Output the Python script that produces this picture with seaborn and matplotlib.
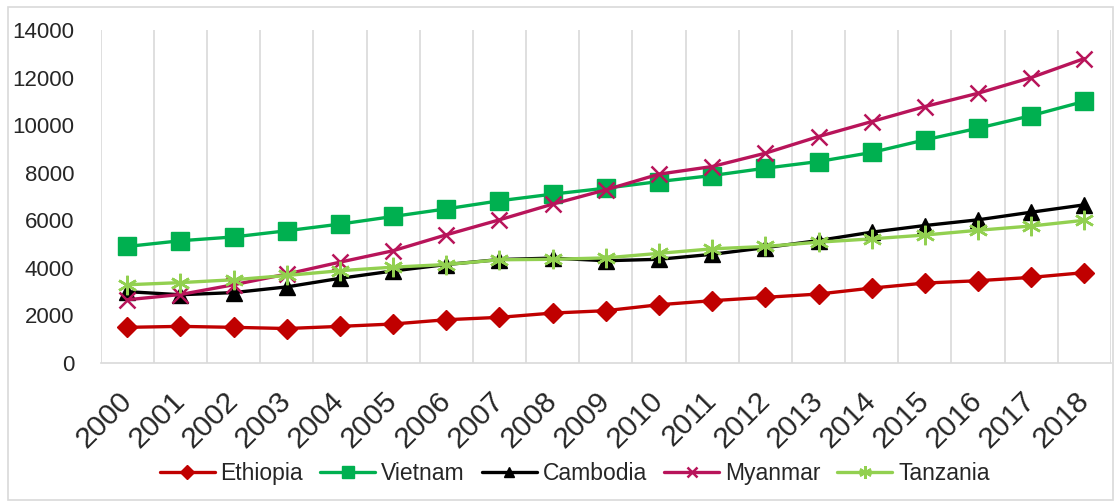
import matplotlib
matplotlib.use("Agg")
import matplotlib.pyplot as plt
import seaborn as sns
import pandas as pd
from matplotlib.patches import Rectangle

years = list(range(2000, 2019))
year_labels = [str(y) for y in years]

ethiopia = [1500, 1540, 1500, 1450, 1540, 1640, 1820, 1920, 2100, 2200, 2450, 2620, 2760, 2900, 3150, 3360, 3460, 3600, 3800]
vietnam = [4900, 5140, 5300, 5560, 5840, 6160, 6480, 6820, 7100, 7350, 7630, 7880, 8190, 8470, 8850, 9380, 9870, 10400, 11000]
cambodia = [3000, 2870, 2960, 3200, 3560, 3870, 4140, 4350, 4410, 4300, 4360, 4570, 4850, 5150, 5500, 5780, 6020, 6340, 6650]
myanmar = [2660, 2880, 3290, 3740, 4240, 4720, 5390, 6020, 6680, 7280, 7940, 8260, 8820, 9520, 10150, 10780, 11340, 12000, 12800]
tanzania = [3290, 3380, 3500, 3680, 3880, 4030, 4140, 4340, 4360, 4420, 4610, 4800, 4900, 5080, 5220, 5380, 5580, 5760, 6000]

series = {
    "Ethiopia": ethiopia,
    "Vietnam": vietnam,
    "Cambodia": cambodia,
    "Myanmar": myanmar,
    "Tanzania": tanzania,
}
styles = {
    "Ethiopia": dict(color="#C00000", marker="D", ms=10.5, mew=1),
    "Vietnam": dict(color="#00B050", marker="s", ms=12.5, mew=1),
    "Cambodia": dict(color="#000000", marker="^", ms=12, mew=1),
    "Myanmar": dict(color="#B8145A", marker="x", ms=12, mew=1.8),
    "Tanzania": dict(color="#92D050", marker=(6, 2, 0), ms=14, mew=1.8),
}

rows = []
for name, vals in series.items():
    for i, v in enumerate(vals):
        rows.append({"idx": i, "value": v, "country": name})
df = pd.DataFrame(rows)

sns.set_theme(style="white")
plt.rcParams["font.family"] = ["Liberation Sans", "DejaVu Sans"]

fig = plt.figure(figsize=(11.16, 5.03), dpi=100)
ax = fig.add_axes([0.0902, 0.2783, 0.9955 - 0.0902, 0.9404 - 0.2783])

for name in series:
    st = styles[name]
    sub = df[df["country"] == name]
    sns.lineplot(data=sub, x="idx", y="value", ax=ax, color=st["color"],
                 marker=st["marker"], markersize=st["ms"], markeredgewidth=st["mew"],
                 markeredgecolor=st["color"], markerfacecolor=st["color"],
                 linewidth=2.4, label=name)

ax.set_xlim(-0.5, len(years) - 0.5)
ax.set_ylim(0, 14000)
ax.set_yticks(range(0, 14001, 2000))
ax.set_yticklabels([str(v) for v in range(0, 14001, 2000)], fontsize=16)
ax.set_xticks(range(len(years)))
ax.set_xticklabels(year_labels, fontsize=21.5, rotation=45, ha="right", va="center",
                   rotation_mode="anchor")
ax.tick_params(axis="x", length=0, pad=24)
ax.tick_params(axis="y", length=0, pad=19)
ax.set_xlabel("")
ax.set_ylabel("")

for b in [i - 0.5 for i in range(len(years) + 1)]:
    ax.axvline(b, color="#D9D9D9", linewidth=1.2, zorder=0)
for s in ["top", "right", "left"]:
    ax.spines[s].set_visible(False)
ax.spines["bottom"].set_color("#D9D9D9")
ax.spines["bottom"].set_linewidth(1.2)

ax.legend(loc="center", bbox_to_anchor=(0.515, 0.058), bbox_transform=fig.transFigure,
          ncol=5, frameon=False, fontsize=16.5, handlelength=2.4, handletextpad=0.25,
          columnspacing=0.75, markerscale=0.65)

fig.patches.append(Rectangle((8 / 1116, 3 / 503), 1105 / 1116, 493 / 503,
                             transform=fig.transFigure, fill=False,
                             edgecolor="#D9D9D9", linewidth=1.2))

fig.savefig("out.png", dpi=100)
